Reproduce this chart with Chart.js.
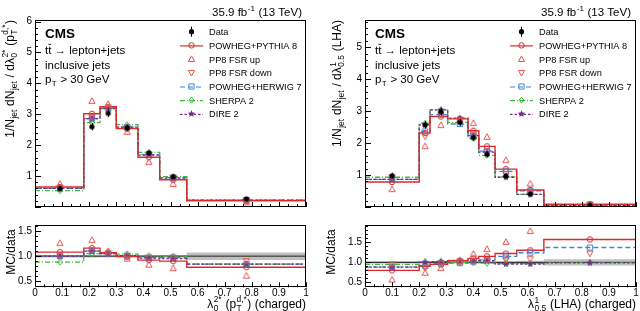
<!DOCTYPE html>
<html>
<head>
<meta charset="utf-8">
<script src="https://cdn.jsdelivr.net/npm/chart.js@4.4.1/dist/chart.umd.min.js"></script>
<style>
  html, body { margin: 0; padding: 0; background: #fff; }
  #wrap { position: relative; width: 640px; height: 311px; overflow: hidden; }
  canvas { position: absolute; }
</style>
</head>
<body>
<div id="wrap">
  <canvas id="ptdMain" width="320" height="216" style="left:0;top:0"></canvas>
  <canvas id="ptdRatio" width="320" height="95" style="left:0;top:216px"></canvas>
  <canvas id="lhaMain" width="320" height="216" style="left:320px;top:0"></canvas>
  <canvas id="lhaRatio" width="320" height="95" style="left:320px;top:216px"></canvas>
</div>
<script>
const FONT = '"Liberation Sans", Arial, Helvetica, sans-serif'

// ---- left panel: lambda_0^2* (pT^d,*) ----
const ptdEdges = [0, 0.18, 0.24, 0.30, 0.38, 0.46, 0.56, 1.0]
const ptdX = [0.092, 0.21, 0.27, 0.34, 0.42, 0.51, 0.78]
const ptdData = [0.60, 2.60, 3.03, 2.56, 1.75, 0.98, 0.26]
const ptdDataErr = [0.03, 0.07, 0.07, 0.05, 0.04, 0.03, 0.015]
const ptdBand = [0.025, 0.025, 0.02, 0.02, 0.02, 0.025, 0.075]
// MC / data
const ptdPP8 = [1.08, 1.16, 1.07, 0.99, 0.92, 0.90, 0.78]
const ptdFsrUp = [1.26, 1.32, 1.10, 0.95, 0.83, 0.76, 0.61]
const ptdFsrDown = [1.02, 1.12, 1.05, 1.00, 0.97, 0.97, 0.90]
const ptdHerwig = [1.00, 1.10, 1.05, 1.01, 0.97, 0.97, 0.84]
const ptdSherpa = [0.88, 1.05, 1.06, 1.04, 1.01, 1.00, 0.84]
const ptdDire = [1.00, 1.10, 1.05, 1.01, 0.96, 0.95, 0.84]

// ---- right panel: lambda_0.5^1 (LHA) ----
const lhaEdges = [0, 0.20, 0.24, 0.305, 0.38, 0.42, 0.48, 0.56, 0.66, 1.0]
const lhaX = [0.10, 0.222, 0.28, 0.35, 0.40, 0.45, 0.52, 0.61, 0.83]
const lhaData = [0.98, 2.57, 2.98, 2.65, 2.17, 1.65, 0.97, 0.41, 0.055]
const lhaDataErr = [0.04, 0.07, 0.07, 0.06, 0.05, 0.04, 0.03, 0.02, 0.01]
const lhaBand = [0.03, 0.03, 0.03, 0.03, 0.03, 0.03, 0.03, 0.04, 0.08]
const lhaPP8 = [0.80, 0.90, 0.95, 1.04, 1.10, 1.15, 1.22, 1.30, 1.57]
const lhaFsrUp = [0.57, 0.74, 0.86, 1.02, 1.21, 1.33, 1.51, 1.78, null]
const lhaFsrDown = [0.95, 0.86, 0.97, 1.02, 1.03, 1.05, 1.06, 1.08, 1.22]
const lhaHerwig = [0.88, 0.92, 0.97, 0.98, 1.02, 1.06, 1.15, 1.24, 1.37]
const lhaSherpa = [0.95, 1.02, 1.02, 1.00, 0.99, 0.98, 0.97, 0.97, 1.00]
const lhaDire = [0.88, 1.00, 1.02, 1.05, 1.03, 1.04, 0.96, 0.96, 0.99]

const RED = '#dc2a2a', RED_LT = '#e2534d', BLUE = '#3a86d8', GREEN = '#3cbc38', PURPLE = '#76288c'

const legendItems = [
  { label: 'Data', kind: 'dot', color: '#000', err: true },
  { label: 'POWHEG+PYTHIA 8', kind: 'circle', color: RED, dash: [] },
  { label: 'PP8 FSR up', kind: 'up', color: RED_LT },
  { label: 'PP8 FSR down', kind: 'down', color: RED_LT },
  { label: 'POWHEG+HERWIG 7', kind: 'square', color: BLUE, dash: [5, 3] },
  { label: 'SHERPA 2', kind: 'diamond', color: GREEN, dash: [5, 2, 1, 2] },
  { label: 'DIRE 2', kind: 'star', color: PURPLE, dash: [2.5, 2] }
]

// ---------- helpers ----------
function drawMarker(ctx, kind, x, y, color) {
  ctx.save()
  ctx.strokeStyle = color
  ctx.fillStyle = color
  ctx.lineWidth = 1
  ctx.beginPath()
  if (kind === 'dot') {
    ctx.arc(x, y, 2.6, 0, Math.PI * 2); ctx.fill()
  } else if (kind === 'circle') {
    ctx.arc(x, y, 2.7, 0, Math.PI * 2); ctx.stroke()
  } else if (kind === 'up') {
    ctx.moveTo(x, y - 3.2); ctx.lineTo(x + 3.1, y + 2.4); ctx.lineTo(x - 3.1, y + 2.4); ctx.closePath(); ctx.stroke()
  } else if (kind === 'down') {
    ctx.moveTo(x, y + 3.2); ctx.lineTo(x + 3.1, y - 2.4); ctx.lineTo(x - 3.1, y - 2.4); ctx.closePath(); ctx.stroke()
  } else if (kind === 'square') {
    ctx.rect(x - 2.6, y - 2.6, 5.2, 5.2); ctx.stroke()
  } else if (kind === 'diamond') {
    ctx.moveTo(x, y - 3); ctx.lineTo(x + 2.4, y); ctx.lineTo(x, y + 3); ctx.lineTo(x - 2.4, y); ctx.closePath(); ctx.stroke()
  } else if (kind === 'star') {
    for (let i = 0; i < 10; i++) {
      const r = i % 2 ? 1.6 : 3.9
      const a = -Math.PI / 2 + i * Math.PI / 5
      ctx.lineTo(x + r * Math.cos(a), y + r * Math.sin(a))
    }
    ctx.closePath(); ctx.fill()
  }
  ctx.restore()
}

function markerImg(kind, color) {
  const c = document.createElement('canvas')
  c.width = 12; c.height = 12
  drawMarker(c.getContext('2d'), kind, 6, 6, color)
  return c
}

function drawParts(ctx, parts, x, y, size, align, bold) {
  const f = s => (bold ? 'bold ' : '') + s + 'px ' + FONT
  const small = size * 0.7
  const items = parts.map(p => {
    if (typeof p === 'string') { ctx.font = f(size); return { t: p, w: ctx.measureText(p).width } }
    if (p.bar) { ctx.font = f(size); return { bar: p.bar, w: ctx.measureText(p.bar).width } }
    ctx.font = f(small)
    const ws = p.sup ? ctx.measureText(p.sup).width : 0
    const wb = p.sub ? ctx.measureText(p.sub).width : 0
    return { sup: p.sup, sub: p.sub, w: Math.max(ws, wb) + size * 0.08 }
  })
  const total = items.reduce((s, it) => s + it.w, 0)
  let cx = align === 'right' ? x - total : align === 'center' ? x - total / 2 : x
  ctx.textAlign = 'left'
  ctx.textBaseline = 'alphabetic'
  for (const it of items) {
    if (it.t != null) {
      ctx.font = f(size); ctx.fillText(it.t, cx, y)
    } else if (it.bar) {
      ctx.font = f(size); ctx.fillText(it.bar, cx, y)
      ctx.fillRect(cx + 0.3, y - size * 0.88, it.w - 0.6, 0.9)
    } else {
      ctx.font = f(small)
      if (it.sup) ctx.fillText(it.sup, cx + size * 0.04, y - size * 0.42)
      if (it.sub) ctx.fillText(it.sub, cx + size * 0.04, y + size * 0.25)
    }
    cx += it.w
  }
}

const stepPoints = (edges, vals) => edges.map((e, i) => ({ x: e, y: vals[Math.min(i, vals.length - 1)] }))
const pts = (xs, vals) => xs.map((x, i) => ({ x: x, y: vals[i] }))
const times = (a, b) => a.map((v, i) => (v == null ? null : v * b[i]))

function markerSet(xs, ys, kind, color) {
  return {
    data: pts(xs, ys), showLine: false, pointStyle: markerImg(kind, color),
    pointRadius: 3, pointHoverRadius: 3, borderColor: color, backgroundColor: color
  }
}
function histSet(edges, vals, color, dash, width) {
  return {
    data: stepPoints(edges, vals), stepped: 'before', borderColor: color,
    borderWidth: width || 1.3, borderDash: dash || [], pointRadius: 0, fill: false
  }
}

function framePlugin(cfg) {
  return {
    id: 'frame',
    afterDraw(chart) {
      const { ctx, chartArea: a, scales: { x, y } } = chart
      ctx.save()
      ctx.strokeStyle = '#000'
      ctx.lineWidth = 1
      ctx.strokeRect(Math.round(a.left) + 0.5, Math.round(a.top) + 0.5,
        Math.round(a.right - a.left) - 1, Math.round(a.bottom - a.top) - 1)
      ctx.beginPath()
      for (let k = 0; k <= 30; k++) {
        const px = Math.round(x.getPixelForValue(k / 30)) + 0.5
        const len = k % 3 === 0 ? cfg.xMaj : cfg.xMin
        ctx.moveTo(px, a.bottom); ctx.lineTo(px, a.bottom - len)
      }
      const start = Math.ceil(y.min / cfg.yStep - 1e-6)
      for (let k = start; k * cfg.yStep <= y.max + 1e-9; k++) {
        const v = k * cfg.yStep
        const py = Math.round(y.getPixelForValue(v)) + 0.5
        const isMaj = Math.abs(v / cfg.yMajor - Math.round(v / cfg.yMajor)) < 1e-6
        ctx.moveTo(a.left, py); ctx.lineTo(a.left + (isMaj ? cfg.yMaj : cfg.yMin), py)
      }
      ctx.stroke()
      ctx.restore()
    }
  }
}

function decorPlugin(cfg) {
  return {
    id: 'decor',
    afterDatasetsDraw(chart) {
      if (!cfg.errs) return
      const { ctx, scales: { x, y } } = chart
      ctx.save()
      ctx.strokeStyle = '#000'
      ctx.lineWidth = 1
      ctx.beginPath()
      cfg.errs.xs.forEach((xv, i) => {
        const px = Math.round(x.getPixelForValue(xv)) + 0.5
        ctx.moveTo(px, y.getPixelForValue(cfg.errs.ys[i] - cfg.errs.e[i]) + 1.5)
        ctx.lineTo(px, y.getPixelForValue(cfg.errs.ys[i] + cfg.errs.e[i]) - 1.5)
      })
      ctx.stroke()
      ctx.restore()
    },
    afterDraw(chart) {
      const ctx = chart.ctx
      ctx.save()
      ctx.fillStyle = '#000'
      for (const t of cfg.texts || []) {
        if (t.rot) {
          ctx.save()
          ctx.translate(t.x, t.y)
          ctx.rotate(-Math.PI / 2)
          drawParts(ctx, t.parts, 0, 0, t.size, t.align, t.bold)
          ctx.restore()
        } else {
          drawParts(ctx, t.parts, t.x, t.y, t.size, t.align, t.bold)
        }
      }
      if (cfg.legend) {
        const L = cfg.legend
        legendItems.forEach((it, i) => {
          const yc = L.y + i * L.dy
          if (it.dash) {
            ctx.save()
            ctx.strokeStyle = it.color
            ctx.lineWidth = 1.2
            ctx.setLineDash(it.dash)
            ctx.beginPath(); ctx.moveTo(L.x0, yc + 0.5); ctx.lineTo(L.x1, yc + 0.5); ctx.stroke()
            ctx.restore()
          }
          if (it.err) {
            ctx.fillRect(L.xm - 0.5, yc - 5, 1, 10)
          }
          drawMarker(ctx, it.kind, L.xm, yc, it.color)
          ctx.fillStyle = '#000'
          drawParts(ctx, [it.label], L.tx, yc + 3.4, 9.2, 'left')
        })
      }
      ctx.restore()
    }
  }
}

function mainChart(id, p) {
  const datasets = [
    markerSet(p.xs, p.data, 'dot', '#000'),
    markerSet(p.xs, times(p.fsrUp, p.data), 'up', RED_LT),
    markerSet(p.xs, times(p.fsrDown, p.data), 'down', RED_LT),
    markerSet(p.xs, times(p.dire, p.data), 'star', PURPLE),
    markerSet(p.xs, times(p.sherpa, p.data), 'diamond', GREEN),
    markerSet(p.xs, times(p.herwig, p.data), 'square', BLUE),
    markerSet(p.xs, times(p.pp8, p.data), 'circle', RED),
    histSet(p.edges, times(p.pp8, p.data), RED, [], 1.4),
    histSet(p.edges, times(p.dire, p.data), PURPLE, [2.5, 2]),
    histSet(p.edges, times(p.sherpa, p.data), GREEN, [5, 2, 1, 2]),
    histSet(p.edges, times(p.herwig, p.data), BLUE, [5, 3])
  ]
  return new Chart(document.getElementById(id), {
    type: 'line',
    data: { datasets: datasets },
    options: {
      responsive: false, animation: false, events: [],
      layout: { padding: { left: 0, right: p.padRight, top: 20, bottom: 0.5 } },
      plugins: { legend: { display: false }, tooltip: { enabled: false } },
      scales: {
        x: { type: 'linear', min: 0, max: 1, display: false },
        y: {
          type: 'linear', min: 0, max: p.yMax,
          grid: { display: false, drawTicks: false }, border: { display: false },
          afterFit: s => { s.width = p.axisW },
          afterBuildTicks: s => { s.ticks = p.yTicks.map(v => ({ value: v })) },
          ticks: { padding: 3, color: '#000', font: { family: FONT, size: 10 }, callback: v => String(v) }
        }
      }
    },
    plugins: [
      framePlugin({ xMaj: 5, xMin: 3, yStep: 0.2, yMajor: 1, yMaj: 6, yMin: 3 }),
      decorPlugin({ errs: { xs: p.xs, ys: p.data, e: p.err }, texts: p.texts, legend: p.legend })
    ]
  })
}

function ratioChart(id, p) {
  const lower = p.band.map(b => 1 - b), upper = p.band.map(b => 1 + b)
  const datasets = [
    markerSet(p.xs, p.fsrUp, 'up', RED_LT),
    markerSet(p.xs, p.fsrDown, 'down', RED_LT),
    markerSet(p.xs, p.dire, 'star', PURPLE),
    markerSet(p.xs, p.sherpa, 'diamond', GREEN),
    markerSet(p.xs, p.herwig, 'square', BLUE),
    markerSet(p.xs, p.pp8, 'circle', RED),
    histSet(p.edges, p.pp8, RED, [], 1.4),
    histSet(p.edges, p.dire, PURPLE, [2.5, 2]),
    histSet(p.edges, p.sherpa, GREEN, [5, 2, 1, 2]),
    histSet(p.edges, p.herwig, BLUE, [5, 3]),
    { data: [{ x: 0, y: 1 }, { x: 1, y: 1 }], borderColor: '#222', borderWidth: 1, pointRadius: 0, fill: false },
    { data: stepPoints(p.edges, lower), stepped: 'before', borderWidth: 0, borderColor: 'rgba(0,0,0,0)', pointRadius: 0, fill: false },
    { data: stepPoints(p.edges, upper), stepped: 'before', borderWidth: 0, borderColor: 'rgba(0,0,0,0)', pointRadius: 0, fill: '-1', backgroundColor: 'rgba(170,170,170,0.75)' }
  ]
  return new Chart(document.getElementById(id), {
    type: 'line',
    data: { datasets: datasets },
    options: {
      responsive: false, animation: false, events: [],
      layout: { padding: { left: 0, right: p.padRight, top: 2.3, bottom: 0 } },
      plugins: { legend: { display: false }, tooltip: { enabled: false } },
      scales: {
        x: {
          type: 'linear', min: 0, max: 1,
          grid: { display: false, drawTicks: false }, border: { display: false },
          afterFit: s => { s.height = 23.7 },
          afterBuildTicks: s => { s.ticks = [0, 1, 2, 3, 4, 5, 6, 7, 8, 9, 10].map(k => ({ value: k / 10 })) },
          ticks: {
            padding: 0, color: '#000', font: { family: FONT, size: 10 }, autoSkip: false, maxRotation: 0,
            callback: v => String(Math.round(v * 10) / 10)
          }
        },
        y: {
          type: 'linear', min: p.yMin, max: p.yMax,
          grid: { display: false, drawTicks: false }, border: { display: false },
          afterFit: s => { s.width = p.axisW },
          afterBuildTicks: s => { s.ticks = [0.5, 1.0, 1.5].map(v => ({ value: v })) },
          ticks: { padding: 3, color: '#000', font: { family: FONT, size: 10 }, callback: v => v.toFixed(1) }
        }
      }
    },
    plugins: [
      framePlugin({ xMaj: 5, xMin: 3, yStep: 0.1, yMajor: 0.5, yMaj: 6, yMin: 3 }),
      decorPlugin({ texts: p.texts })
    ]
  })
}

const header = ['35.9 fb', { sup: '-1' }, ' (13 TeV)']
const decayLine = ['t', { bar: 't' }, ' \u2192 lepton+jets']
const ptCut = ['p', { sub: 'T' }, ' > 30 GeV']

mainChart('ptdMain', {
  edges: ptdEdges, xs: ptdX, data: ptdData, err: ptdDataErr,
  pp8: ptdPP8, fsrUp: ptdFsrUp, fsrDown: ptdFsrDown, herwig: ptdHerwig, sherpa: ptdSherpa, dire: ptdDire,
  yMax: 6.05, yTicks: [1, 2, 3, 4, 5, 6], axisW: 35, padRight: 14,
  legend: { x0: 180, x1: 203, xm: 191.5, tx: 209, y: 31.7, dy: 13.7 },
  texts: [
    { parts: header, x: 302, y: 16, size: 11.5, align: 'right' },
    { parts: ['CMS'], x: 45, y: 38, size: 13.5, align: 'left', bold: true },
    { parts: decayLine, x: 45, y: 54, size: 11.5, align: 'left' },
    { parts: ['inclusive jets'], x: 45, y: 68.5, size: 11.5, align: 'left' },
    { parts: ptCut, x: 45, y: 83, size: 11.5, align: 'left' },
    { parts: ['1/N', { sub: 'jet' }, ' dN', { sub: 'jet' }, ' / d\u03bb', { sup: '2*', sub: '0' }, ' (p', { sup: 'd,*', sub: 'T' }, ')'],
      x: 13.5, y: 20, size: 12, align: 'right', rot: true }
  ]
})

ratioChart('ptdRatio', {
  edges: ptdEdges, xs: ptdX, band: ptdBand,
  pp8: ptdPP8, fsrUp: ptdFsrUp, fsrDown: ptdFsrDown, herwig: ptdHerwig, sherpa: ptdSherpa, dire: ptdDire,
  yMin: 0.38, yMax: 1.62, axisW: 35, padRight: 14,
  texts: [
    { parts: ['MC/data'], x: 14.5, y: 36, size: 12, align: 'center', rot: true },
    { parts: ['\u03bb', { sup: '2*', sub: '0' }, ' (p', { sup: 'd,*', sub: 'T' }, ') (charged)'], x: 306, y: 91.5, size: 12, align: 'right' }
  ]
})

mainChart('lhaMain', {
  edges: lhaEdges, xs: lhaX, data: lhaData, err: lhaDataErr,
  pp8: lhaPP8, fsrUp: lhaFsrUp, fsrDown: lhaFsrDown, herwig: lhaHerwig, sherpa: lhaSherpa, dire: lhaDire,
  yMax: 5.85, yTicks: [1, 2, 3, 4, 5], axisW: 45, padRight: 4,
  legend: { x0: 190, x1: 213, xm: 201.5, tx: 219, y: 31.7, dy: 13.7 },
  texts: [
    { parts: header, x: 311, y: 16, size: 11.5, align: 'right' },
    { parts: ['CMS'], x: 55, y: 38, size: 13.5, align: 'left', bold: true },
    { parts: decayLine, x: 55, y: 54, size: 11.5, align: 'left' },
    { parts: ['inclusive jets'], x: 55, y: 68.5, size: 11.5, align: 'left' },
    { parts: ptCut, x: 55, y: 83, size: 11.5, align: 'left' },
    { parts: ['1/N', { sub: 'jet' }, ' dN', { sub: 'jet' }, ' / d\u03bb', { sup: '1', sub: '0.5' }, ' (LHA)'],
      x: 21, y: 20, size: 12, align: 'right', rot: true }
  ]
})

ratioChart('lhaRatio', {
  edges: lhaEdges, xs: lhaX, band: lhaBand,
  pp8: lhaPP8, fsrUp: lhaFsrUp, fsrDown: lhaFsrDown, herwig: lhaHerwig, sherpa: lhaSherpa, dire: lhaDire,
  yMin: 0.38, yMax: 1.93, axisW: 45, padRight: 4,
  texts: [
    { parts: ['MC/data'], x: 15, y: 36, size: 12, align: 'center', rot: true },
    { parts: ['\u03bb', { sup: '1', sub: '0.5' }, ' (LHA) (charged)'], x: 316, y: 92, size: 12, align: 'right' }
  ]
})
</script>
</body>
</html>
